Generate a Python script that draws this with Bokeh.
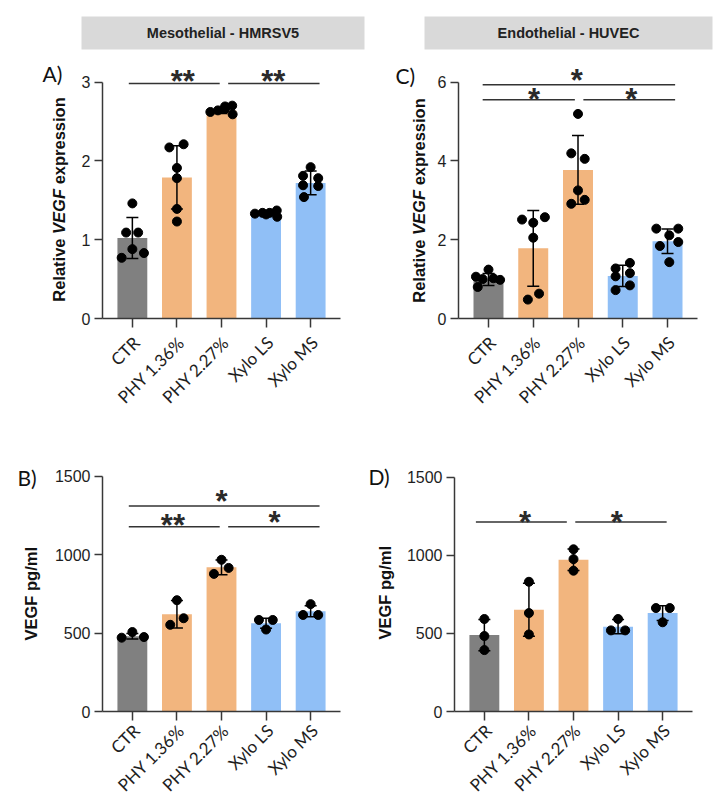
import math
from bokeh.plotting import figure
from bokeh.models import Range1d, FixedTicker, Label, LinearAxis
from bokeh.layouts import column, row
from bokeh.embed import file_html
from bokeh.resources import INLINE
from bokeh.core.properties import value

# ---------------- data ----------------
groups = ["CTR", "PHY 1.36%", "PHY 2.27%", "Xylo LS", "Xylo MS"]
bar_colors = ["#808080", "#f2b57e", "#f2b57e", "#90bff6", "#90bff6"]

# Panel A - Mesothelial, relative VEGF expression
A_mean = [1.02, 1.79, 2.64, 1.33, 1.72]
A_sd = [0.26, 0.40, 0.04, 0.03, 0.15]
A_pts = [[1.46, 1.09, 1.09, 0.88, 0.77, 0.83],
         [2.17, 2.21, 1.91, 1.78, 1.39, 1.23],
         [2.62, 2.64, 2.66, 2.70, 2.59, 2.69],
         [1.33, 1.34, 1.34, 1.37, 1.29, 1.32],
         [1.92, 1.81, 1.78, 1.69, 1.68, 1.54]]
A_yticks = [0, 1, 2, 3]
A_sig = [(-0.08, 1.96, 2.98, "**", 1.13, 3.10),
         (2.15, 4.20, 2.98, "**", 3.16, 3.10)]

# Panel C - Endothelial, relative VEGF expression
C_mean = [0.99, 1.78, 3.77, 1.08, 1.96]
C_sd = [0.15, 0.96, 0.87, 0.27, 0.31]
C_pts = [[1.24, 1.06, 1.00, 1.02, 0.98, 0.80],
         [2.51, 2.43, 2.57, 2.05, 0.48, 0.63],
         [5.19, 4.19, 4.05, 3.25, 2.91, 3.01],
         [1.27, 1.41, 1.07, 1.15, 0.72, 0.84],
         [2.28, 2.28, 2.11, 1.84, 1.94, 1.43]]
C_yticks = [0, 2, 4, 6]
C_sig = [(-0.13, 4.17, 5.93, "*", 1.97, 6.21),
         (-0.13, 1.93, 5.55, "*", 1.02, 5.73),
         (2.12, 4.17, 5.55, "*", 3.19, 5.73)]

# Panel B - Mesothelial, VEGF pg/ml
B_mean = [480, 620, 920, 563, 640]
B_sd = [18, 88, 47, 32, 35]
B_pts = [[471, 507, 475],
         [710, 553, 595],
         [968, 878, 916],
         [584, 584, 523],
         [685, 616, 616]]
B_yticks = [0, 500, 1000, 1500]
B_sig = [(-0.08, 4.20, 1311, "*", 2.00, 1383),
         (-0.08, 1.96, 1178, "**", 0.91, 1231),
         (2.15, 4.20, 1178, "*", 3.19, 1248)]

# Panel D - Endothelial, VEGF pg/ml
D_mean = [489, 651, 971, 543, 630]
D_sd = [100, 169, 69, 45, 47]
D_pts = [[592, 483, 393],
         [830, 630, 493],
         [1038, 975, 901],
         [592, 519, 519],
         [662, 662, 571]]
D_yticks = [0, 500, 1000, 1500]
D_sig = [(-0.19, 1.85, 1212, "*", 0.91, 1254),
         (2.04, 4.09, 1212, "*", 2.97, 1254)]

# horizontal scatter offsets of the dots (layout only)
A_jit = [[0.0, -0.14, 0.13, 0.0, -0.24, 0.26],
         [-0.17, 0.15, 0.0, 0.0, 0.0, 0.0],
         [-0.25, -0.08, 0.08, 0.24, 0.25, 0.08],
         [-0.25, -0.08, 0.08, 0.24, 0.25, 0.0],
         [0.0, -0.17, 0.17, -0.17, 0.17, -0.15]]
C_jit = [[0.0, -0.28, -0.13, 0.11, 0.26, -0.24],
         [-0.25, 0.0, 0.26, 0.0, -0.12, 0.13],
         [0.0, -0.15, 0.15, 0.0, -0.15, 0.15],
         [-0.16, 0.16, -0.16, 0.16, -0.16, 0.16],
         [-0.25, 0.24, 0.04, -0.17, 0.24, 0.04]]
B_jit = [[-0.24, 0.0, 0.26], [0.0, -0.15, 0.15], [0.0, -0.17, 0.16],
         [-0.16, 0.15, 0.0], [0.0, -0.17, 0.17]]
D_jit = [[0.0, 0.0, 0.0], [0.0, 0.0, 0.0], [0.0, 0.0, 0.0],
         [0.0, -0.16, 0.16], [-0.15, 0.16, 0.0]]

# ---------------- styling / layout ----------------
AXIS_COLOR = "#383838"
TEXT_COLOR = "#1e1e1e"
XR = (-0.67, 4.67)
LABEL_SHIFT = 0.09   # x tick labels sit slightly right of their ticks


def make_panel(width, height, mb_left, mb_right, mb_top, mb_bottom, y_end,
               mean, sd, pts, jit, yticks, sig, label_standoff):
    p = figure(width=width, height=height, output_backend="svg",
               toolbar_location=None,
               x_range=Range1d(*XR), y_range=Range1d(0, y_end),
               min_border_left=mb_left, min_border_right=mb_right,
               min_border_top=mb_top, min_border_bottom=mb_bottom)
    p.outline_line_color = None
    p.grid.visible = False

    frame_h = height - mb_top - mb_bottom
    ppu = frame_h / y_end

    xs = list(range(len(groups)))
    p.vbar(x=xs, top=mean, width=0.67, fill_color=bar_colors, line_color=None)

    lo = [m - s for m, s in zip(mean, sd)]
    hi = [m + s for m, s in zip(mean, sd)]
    p.segment(x0=xs, y0=lo, x1=xs, y1=hi, line_color="black", line_width=1.5)
    p.scatter(x=xs, y=hi, marker="dash", size=12, line_color="black", line_width=1.5)
    p.scatter(x=xs, y=lo, marker="dash", size=12, line_color="black", line_width=1.5)

    px, py = [], []
    for i, (vals, js) in enumerate(zip(pts, jit)):
        for v, j in zip(vals, js):
            px.append(i + j)
            py.append(v)
    p.scatter(x=px, y=py, size=9, fill_color="black", line_color="black")

    # significance bars
    p.segment(x0=[s[0] for s in sig], y0=[s[2] for s in sig],
              x1=[s[1] for s in sig], y1=[s[2] for s in sig],
              line_color="#333333", line_width=1.5)
    p.text(x=[s[4] for s in sig], y=[s[5] - 7.0 / ppu for s in sig],
           text=[s[3] for s in sig], text_font=value("Liberation Sans"),
           text_font_style="bold",
           text_font_size="31px", text_align="center", text_baseline="middle",
           text_color="#2a2a2a")

    # x axis: line and tick marks only (its labels are not drawn)
    p.xaxis.ticker = FixedTicker(ticks=xs)
    p.xaxis.major_label_overrides = {i: "." for i in xs}
    p.xaxis.major_label_text_color = None
    p.xaxis.major_label_text_font_size = "0px"
    p.xaxis.major_label_standoff = 0
    p.xaxis.major_tick_out = 9
    # x tick labels on a second (line-less) axis, slightly shifted right
    p.extra_x_ranges = {"lab": Range1d(XR[0] - LABEL_SHIFT, XR[1] - LABEL_SHIFT)}
    lab = LinearAxis(x_range_name="lab", ticker=FixedTicker(ticks=xs),
                     major_label_overrides={i: g for i, g in enumerate(groups)},
                     major_label_orientation=math.pi / 4,
                     major_label_text_font="Lato",
                     major_label_text_font_size="17px",
                     major_label_text_color=TEXT_COLOR,
                     major_label_standoff=label_standoff,
                     axis_line_color=None, major_tick_line_color=None,
                     minor_tick_line_color=None)
    p.add_layout(lab, "below")

    p.yaxis.ticker = FixedTicker(ticks=yticks)
    p.yaxis.bounds = (0, yticks[-1])
    p.yaxis.major_label_text_font = "Liberation Sans"
    p.yaxis.major_label_text_font_size = "16px"
    p.yaxis.major_tick_out = 8
    p.yaxis.major_label_standoff = 4
    p.yaxis.major_label_text_color = TEXT_COLOR
    for ax in (p.xaxis[0], p.yaxis[0]):
        ax.axis_line_color = AXIS_COLOR
        ax.axis_line_width = 1.5
        ax.major_tick_line_color = AXIS_COLOR
        ax.major_tick_line_width = 1.5
        ax.major_tick_in = 0
        ax.minor_tick_line_color = None
    return p


def make_side(x0, x1, height, mb_top, mb_bottom, frame_bottom, letter, letter_xy,
              ylabel_parts, ylabel_x, ylabel_cy):
    """Strip left of a panel holding its letter and rotated y title.
    Coordinates are page pixels: x directly, y as distance above the frame bottom."""
    fh = height - mb_top - mb_bottom
    s = figure(width=x1 - x0, height=height, output_backend="svg",
               toolbar_location=None, x_range=Range1d(x0, x1),
               y_range=Range1d(0, fh), x_axis_location=None,
               y_axis_location=None, min_border_left=0, min_border_right=0,
               min_border_top=mb_top, min_border_bottom=mb_bottom)
    s.grid.visible = False
    s.outline_line_color = None
    s.add_layout(Label(x=letter_xy[0], y=frame_bottom - letter_xy[1], text=letter,
                       text_font="Lato", text_font_size="21px",
                       text_color="#111111", text_align="left",
                       text_baseline="alphabetic"))
    fs = 16.5
    total = sum(w for _, _, w in ylabel_parts) * fs
    y_start = ylabel_cy + total / 2   # page y of the lower end of the title
    for txt, style, w in ylabel_parts:
        s.add_layout(Label(x=ylabel_x, y=frame_bottom - y_start, text=txt,
                           angle=math.pi / 2, text_font="Liberation Sans",
                           text_font_style=style, text_font_size=f"{fs}px",
                           text_color="#111111", text_align="left",
                           text_baseline="middle"))
        y_start -= w * fs
    return s


def make_header(width, height, ml, mr, mt, mb, text):
    h = figure(width=width, height=height, output_backend="svg",
               toolbar_location=None, x_range=Range1d(0, 1), y_range=Range1d(0, 1),
               x_axis_location=None, y_axis_location=None,
               min_border_left=ml, min_border_right=mr,
               min_border_top=mt, min_border_bottom=mb)
    h.grid.visible = False
    h.outline_line_color = None
    h.background_fill_color = "#d9d9d9"
    h.border_fill_color = "white"
    h.add_layout(Label(x=0.5, y=0.5, text=text, text_align="center",
                       text_baseline="middle", text_font="Liberation Sans",
                       text_font_style="bold", text_font_size="14.5px",
                       text_color="#222222"))
    return h


rel_parts = [("Relative ", "bold", 4.113), ("VEGF ", "bold italic", 3.001),
             ("expression", "bold", 5.28)]
pg_parts = [("VEGF pg/ml", "bold", 5.668)]

# row 0: headers (page y 0-56, boxes 16-49)
hL = make_header(380, 56, 81, 16, 16, 7, "Mesothelial - HMRSV5")
hR = make_header(347, 56, 44, 15, 16, 7, "Endothelial - HUVEC")

# row 1 (page y 56-420): frames from y 60 to 318
sA = make_side(0, 70, 364, 4, 102, 318, "A)", (42, 73), rel_parts, 58.5, 199)
pA = make_panel(310, 364, 32, 40, 4, 102, (318 - 60) / ((318 - 81.5) / 3),
                A_mean, A_sd, A_pts, A_jit, A_yticks, A_sig, 6)
sC = make_side(380, 431, 364, 4, 102, 318, "C)", (395, 74.5), rel_parts, 418, 200)
pC = make_panel(296, 364, 27, 30, 4, 102, (318 - 60) / ((318 - 81.5) / 6),
                C_mean, C_sd, C_pts, C_jit, C_yticks, C_sig, 6)

# row 2 (page y 420-805): frames from y 448 to 712
sB = make_side(0, 45, 385, 28, 93, 712, "B)", (17, 477.5), pg_parts, 30.5, 594)
pB = make_panel(315, 385, 57, 20, 28, 93, (712 - 448) / ((712 - 476) / 1500),
                B_mean, B_sd, B_pts, B_jit, B_yticks, B_sig, 1)
sD = make_side(360, 396, 385, 28, 93, 712, "D)", (368, 476.5), pg_parts, 384, 593)
pD = make_panel(331, 385, 58, 35, 28, 93, (712 - 448) / ((712 - 476.7) / 1500),
                D_mean, D_sd, D_pts, D_jit, D_yticks, D_sig, 1)

layout = column(row(hL, hR), row(sA, pA, sC, pC), row(sB, pB, sD, pD))
open("out.html", "w").write(file_html(layout, INLINE))
